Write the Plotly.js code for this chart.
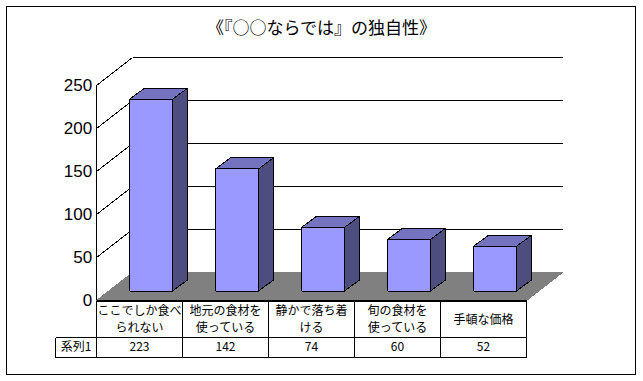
<!DOCTYPE html>
<html><head><meta charset="utf-8">
<script src="https://cdn.plot.ly/plotly-3.0.1.min.js"></script>
<style>
html,body{margin:0;padding:0;background:#fff}
#chart{width:643px;height:381px}
.scatterlayer path{shape-rendering:crispEdges}
.shapelayer path{shape-rendering:crispEdges}
</style></head><body><div id="chart"></div>
<script>
const titleText = "《『○○ならでは』の独自性》";
const categories = ["ここでしか食べ<br>られない","地元の食材を<br>使っている","静かで落ち着<br>ける","旬の食材を<br>使っている","手頓な価格"];
const seriesName = "系列1";
const seriesValues = [223,142,74,60,52];
const yTicks = [0,50,100,150,200,250];

const colFront="#9999FF", colSide="#4D4D80", colTop="#7373BF", colFloor="#808080";
const W=643, H=381, X0=96.5, Y0=300.5;  // page position of the origin
const pxX=86, pxY=0.86;               // pixels per category / per value
const depthX=36/pxX, depthY=28/pxY;   // floor depth
const barW=43/pxX;
const barDX=15/pxX, barDY=11/pxY;     // bar depth
const px=v=>v/pxX, py=v=>v/pxY;
const n=categories.length;
const cjk="Noto Sans CJK JP, sans-serif";
const traces=[];
function line(xs,ys,w){traces.push({type:"scatter",mode:"lines",xaxis:"x2",yaxis:"y2",x:xs,y:ys,hoverinfo:"skip",showlegend:false,line:{color:"#000",width:w||1}});}
function poly(xs,ys,fill,stroke){traces.push({type:"scatter",mode:"lines",xaxis:"x2",yaxis:"y2",x:xs.concat(xs[0]),y:ys.concat(ys[0]),fill:"toself",fillcolor:fill,hoverinfo:"skip",showlegend:false,line:{color:stroke||fill,width:1}});}

// host trace for the visible axes (draws nothing visible)
traces.push({type:"scatter",mode:"markers",x:categories.map((c,i)=>i+0.5),y:seriesValues,marker:{opacity:0,size:1},hoverinfo:"skip",showlegend:false});

// walls
yTicks.filter(v=>v>0).forEach(v=>{
  line([0,depthX],[v,v+depthY]);
  line([depthX,n+depthX],[v+depthY,v+depthY]);
});
// floor
poly([0,n,n+depthX,depthX],[0,0,depthY,depthY],colFloor);
// bars
const ox=(depthX-barDX)/2+px(1), oy=(depthY-barDY)/2+py(1);
seriesValues.forEach((v,i)=>{
  const x0=i+0.5-barW/2+ox, x1=x0+barW, y0=oy, y1=oy+v;
  poly([x1,x1+barDX,x1+barDX,x1],[y0,y0+barDY,y1+barDY,y1],colSide,"#000");
  poly([x0,x1,x1+barDX,x0+barDX],[y1,y1,y1+barDY,y1+barDY],colTop,"#000");
  poly([x0,x1,x1,x0],[y0,y0,y1,y1],colFront,"#000");
});
// data table
const rowA=-py(37), rowB=-py(57), left=-px(41);
line([0,n],[0,0]);
line([left,n],[rowA,rowA]);
line([left,n],[rowB,rowB]);
line([left,left],[rowA,rowB]);
for(let i=0;i<=n;i++) line([i,i],[0,rowB]);
// category labels: each wrapped line placed in its table cell
const labelX=[], labelY=[], labelT=[];
categories.forEach((c,i)=>{
  const parts=c.split("<br>");
  const offs=parts.length>1?[11,28]:[20];
  parts.forEach((t,k)=>{labelX.push(i+0.5);labelY.push(-py(offs[k]));labelT.push(t);});
});
traces.push({type:"scatter",mode:"text",xaxis:"x2",yaxis:"y2",hoverinfo:"skip",showlegend:false,
  x:labelX,y:labelY,text:labelT,
  textposition:"middle center",textfont:{family:cjk,size:12,color:"#000"}});
traces.push({type:"scatter",mode:"text",xaxis:"x2",yaxis:"y2",hoverinfo:"skip",showlegend:false,
  x:categories.map((c,i)=>i+0.5),y:categories.map(()=>-py(47)),text:seriesValues.map(String),
  textposition:"middle center",textfont:{family:cjk,size:12,color:"#000"}});
traces.push({type:"scatter",mode:"text",xaxis:"x2",yaxis:"y2",hoverinfo:"skip",showlegend:false,
  x:[left/2],y:[-py(47)],text:[seriesName],
  textposition:"middle center",textfont:{family:cjk,size:12,color:"#000"}});

const layout={
  width:W,height:H,paper_bgcolor:"#fff",plot_bgcolor:"rgba(0,0,0,0)",showlegend:false,
  margin:{l:0,r:0,t:0,b:0,pad:0},
  title:{text:titleText,font:{family:cjk,size:17,color:"#000"},x:0.5,xanchor:"center",y:1-28/H,yanchor:"middle"},
  xaxis:{domain:[X0/W,(X0+n*pxX)/W],range:[0,n],anchor:"y",showticklabels:false,showgrid:false,zeroline:false,
    showline:true,linecolor:"#000",linewidth:1,ticks:"",automargin:false},
  yaxis:{domain:[(H-Y0)/H,(H-Y0+250*pxY)/H],range:[0,250],anchor:"x",tickmode:"array",tickvals:yTicks,showgrid:false,zeroline:false,
    showline:true,linecolor:"#000",linewidth:1,ticks:"",automargin:false,
    tickfont:{family:"Liberation Sans, Arial, sans-serif",size:17,color:"#000"}},
  xaxis2:{domain:[0,1],range:[-X0/pxX,(W-X0)/pxX],visible:false,anchor:"y2",fixedrange:true},
  yaxis2:{domain:[0,1],range:[-(H-Y0)/pxY,Y0/pxY],visible:false,anchor:"x2",fixedrange:true},
  shapes:[{type:"rect",xref:"paper",yref:"paper",layer:"below",
    x0:6.5/W,x1:635.5/W,y0:1-374.5/H,y1:1-6.5/H,line:{color:"#000",width:1},fillcolor:"rgba(0,0,0,0)"}]
};
Plotly.newPlot("chart",traces,layout,{staticPlot:true,displayModeBar:false});
</script></body></html>
